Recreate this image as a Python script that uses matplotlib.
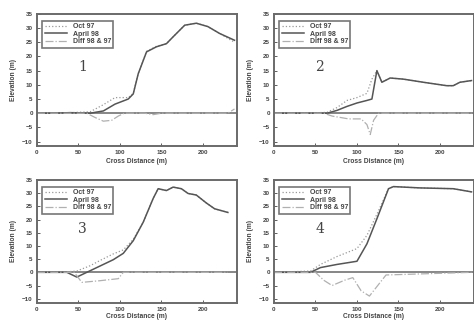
import matplotlib
matplotlib.use("Agg")
import matplotlib.pyplot as plt

# panel 1
x1 = [0, 20, 40, 64, 80, 94, 110, 116, 122, 132, 144, 156, 164, 178, 192, 206, 220, 238]
apr1 = [0, 0, 0.2, 0, 0.8, 3.2, 5, 6.8, 13.9, 21.6, 23.4, 24.5, 26.9, 31, 31.7, 30.5, 28.1, 25.7]
oct1 = [0, 0, 0.2, 0.5, 3, 5.5, 5.5, 7, 14, 21.8, 23.6, 24.5, 26.9, 31, 31.7, 30.5, 28.1, 25]
dx1 = [0, 60, 70, 80, 90, 98, 105, 130, 140, 150, 230, 238]
diff1 = [0, 0, -1.5, -2.8, -2.5, -1, 0, 0, -0.5, 0, 0, 1.5]

# panel 2
x2 = [0, 30, 64, 76, 88, 100, 112, 118, 124, 130, 140, 156, 180, 208, 216, 224, 238]
apr2 = [0, 0, 0, 1, 2.4, 3.6, 4.5, 5, 15, 10.9, 12.4, 12, 10.9, 9.7, 9.7, 10.9, 11.5]
oct2 = [0, 0, 0.3, 2, 4.5, 5.5, 7, 12, 15, 11, 12.4, 12, 10.9, 9.7, 9.7, 10.9, 11.5]
dx2 = [0, 60, 70, 90, 105, 112, 116, 120, 126, 238]
diff2 = [0, 0, -1, -2, -2, -4, -7.5, -2.5, 0, 0]

# panel 3
x3 = [0, 36, 48, 64, 76, 92, 104, 116, 128, 140, 146, 156, 164, 174, 182, 192, 204, 214, 230]
apr3 = [0, 0, -1.8, 0.6, 2.4, 4.8, 7.2, 12, 19, 28, 31.7, 31, 32.3, 31.7, 29.9, 29.3, 26.3, 24.1, 22.7]
oct3 = [0, 0.2, 0.5, 2.5, 4.5, 7, 8.5, 12.5, 19, 28, 31.7, 31, 32.3, 31.7, 29.9, 29.3, 26.3, 24.1, 22.7]
dx3 = [0, 45, 54, 75, 98, 104, 230]
diff3 = [0, 0, -3.8, -3.2, -2.4, 0, 0]

# panel 4
x4 = [0, 44, 56, 76, 100, 112, 124, 138, 144, 176, 216, 238]
apr4 = [0, 0, 1.8, 3, 4.2, 10.8, 20.3, 31.7, 32.5, 32, 31.7, 30.5]
oct4 = [0, 0.5, 3, 6, 9, 14, 22, 31.7, 32.5, 32, 31.7, 30.5]
dx4 = [0, 50, 60, 70, 85, 95, 105, 115, 125, 135, 238]
diff4 = [0, 0, -3, -5, -3, -2, -7, -9, -5, -1, 0]

panels = [
    (x1, apr1, oct1, dx1, diff1, "1"),
    (x2, apr2, oct2, dx2, diff2, "2"),
    (x3, apr3, oct3, dx3, diff3, "3"),
    (x4, apr4, oct4, dx4, diff4, "4"),
]
positions = [
    [0.078, 0.547, 0.422, 0.410],
    [0.578, 0.547, 0.422, 0.410],
    [0.078, 0.060, 0.422, 0.381],
    [0.578, 0.060, 0.422, 0.381],
]

plt.rcParams["font.family"] = "Liberation Sans"
fig = plt.figure(figsize=(4.74, 3.22), dpi=100)

for i, ((x, apr, oc, dx, diff, num), pos) in enumerate(zip(panels, positions)):
    ax = fig.add_axes(pos)
    ax.axhline(0, color="#666666", lw=1.1, zorder=1)
    ax.plot(x, oc, color="#999999", lw=0.9, ls=":", label="Oct 97")
    ax.plot(x, apr, color="#555555", lw=1.1, ls="-", label="April 98")
    ax.plot(dx, diff, color="#b0b0b0", lw=0.9, ls="-.", label="Diff 98 & 97")
    ax.set_xlim(0, 241)
    ax.set_ylim(-11.5, 35)
    ax.set_xticks([0, 50, 100, 150, 200])
    ax.set_yticks([35, 30, 25, 20, 15, 10, 5, 0, -5, -10])
    ax.tick_params(labelsize=4.5, length=2, width=0.6, direction="in", colors="#444444", pad=3)
    for lab in ax.get_xticklabels() + ax.get_yticklabels():
        lab.set_fontweight("bold")
    for sp in ax.spines.values():
        sp.set_color("#6a6a6a")
        sp.set_linewidth(1.4)
    lp = 2 if i < 2 else 1
    ax.set_xlabel("Cross Distance (m)", fontsize=4.8, fontweight="bold", color="#444444", labelpad=lp)
    ax.set_ylabel("Elevation (m)", fontsize=4.8, fontweight="bold", color="#444444", labelpad=4)
    ax.text(50, 15, num, fontsize=10, family="DejaVu Serif", color="#444444")
    leg = ax.legend(loc="upper left", fontsize=5, frameon=True, fancybox=False,
                    handlelength=3.2, borderpad=0.35, labelspacing=0.1,
                    bbox_to_anchor=(0.01, 0.975))
    leg.get_frame().set_edgecolor("#555555")
    leg.get_frame().set_linewidth(1.2)
    for t in leg.get_texts():
        t.set_fontweight("bold")
        t.set_color("#444444")

fig.savefig("out.png", dpi=100)
